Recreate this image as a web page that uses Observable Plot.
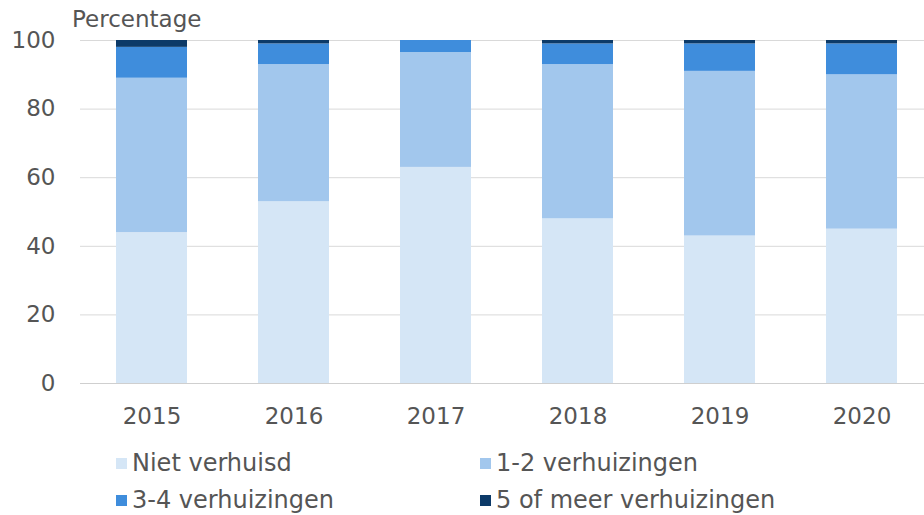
<!DOCTYPE html>
<html>
<head>
<meta charset="utf-8">
<script src="https://cdn.jsdelivr.net/npm/d3@7"></script>
<script src="https://cdn.jsdelivr.net/npm/@observablehq/plot@0.6"></script>
<style>
  html, body { margin: 0; padding: 0; background: #fff; }
  body { width: 924px; height: 515px; overflow: hidden; font-family: "DejaVu Sans", Verdana, sans-serif; }
  #wrap { position: relative; }
  #ylabel { position: absolute; left: 72px; top: 6px; font-size: 23px; line-height: 27px; color: #555; }
  #legend { position: absolute; left: 116px; top: 449px; display: grid; grid-template-columns: 364px 420px; row-gap: 9px; font-size: 24px; color: #555; }
  .item { display: flex; align-items: center; height: 28px; }
  .sw { width: 11px; height: 11px; margin-right: 5px; display: inline-block; }
</style>
</head>
<body>
<div id="wrap">
  <div id="chart"></div>
  <div id="ylabel">Percentage</div>
  <div id="legend"></div>
</div>
<script>
const years = ["2015", "2016", "2017", "2018", "2019", "2020"];
const seriesNames = ["Niet verhuisd", "1-2 verhuizingen", "3-4 verhuizingen", "5 of meer verhuizingen"];
const seriesColors = ["#d5e6f6", "#a2c7ed", "#3f8ddc", "#0c3a68"];
const nietVerhuisd = [44, 53, 63, 48, 43, 45];
const verhuizingen12 = [45, 40, 33.5, 45, 48, 45];
const verhuizingen34 = [9, 6, 3.5, 6, 8, 9];
const verhuizingen5plus = [2, 1, 0, 1, 1, 1];
const yTicks = [0, 20, 40, 60, 80, 100];

const seriesValues = [nietVerhuisd, verhuizingen12, verhuizingen34, verhuizingen5plus];
const data = [];
years.forEach((y, i) => {
  seriesNames.forEach((s, j) => data.push({year: y, series: s, value: seriesValues[j][i]}));
});

const chart = Plot.plot({
  width: 924,
  height: 440,
  marginLeft: 80,
  marginRight: 0,
  marginTop: 40,
  marginBottom: 57,
  style: {fontFamily: "DejaVu Sans, Verdana, sans-serif", fontSize: "23px", color: "#555", background: "#fff"},
  x: {domain: years, paddingInner: 0.5, paddingOuter: 0.2175, align: 0.565, label: null},
  y: {domain: [0, 100], ticks: yTicks, label: null},
  color: {domain: seriesNames, range: seriesColors},
  marks: [
    Plot.gridY(yTicks, {stroke: "#d9d9d9", strokeOpacity: 1, strokeWidth: 1}),
    Plot.barY(data, Plot.stackY({x: "year", y: "value", fill: "series", order: seriesNames})),
    Plot.ruleY([0], {stroke: "#cfcfcf"}),
    Plot.axisY({ticks: yTicks, tickSize: 0, tickPadding: 25, label: null, fill: "#555"}),
    Plot.axisX({tickSize: 0, tickPadding: 24, label: null, fill: "#555"})
  ]
});
document.getElementById("chart").appendChild(chart);

const legend = document.getElementById("legend");
seriesNames.forEach((s, j) => {
  const it = document.createElement("div");
  it.className = "item";
  const sw = document.createElement("span");
  sw.className = "sw";
  sw.style.background = seriesColors[j];
  it.appendChild(sw);
  it.appendChild(document.createTextNode(s));
  legend.appendChild(it);
});
</script>
</body>
</html>
